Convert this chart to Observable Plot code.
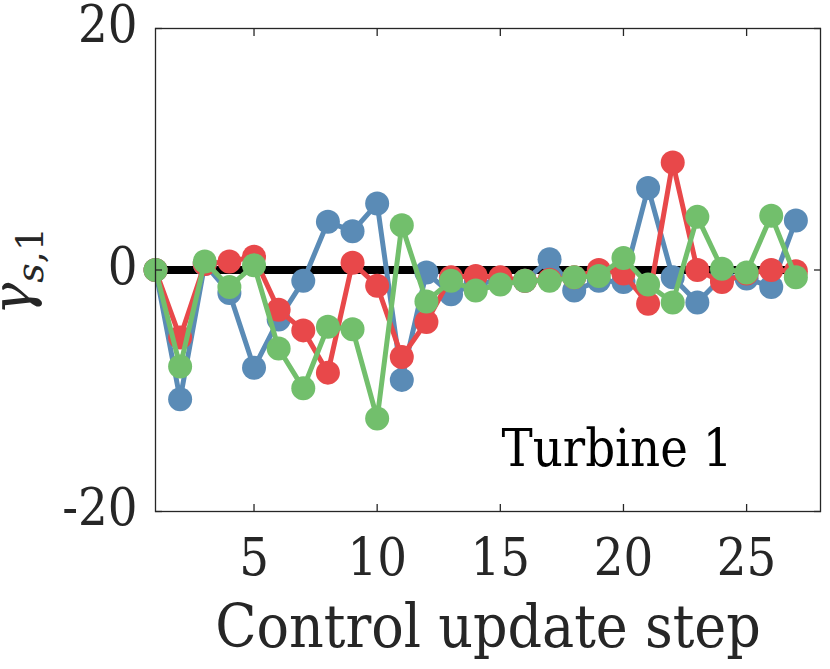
<!DOCTYPE html>
<html>
<head>
<meta charset="utf-8">
<script src="https://cdn.jsdelivr.net/npm/d3@7"></script>
<script src="https://cdn.jsdelivr.net/npm/@observablehq/plot@0.6"></script>
<style>
  html, body { margin: 0; padding: 0; background: #fff; }
</style>
</head>
<body>
<div id="chart"></div>
<script>
// ---- data ----
const steps = [1, 2, 3, 4, 5, 6, 7, 8, 9, 10, 11, 12, 13, 14, 15, 16, 17, 18, 19, 20, 21, 22, 23, 24, 25, 26, 27];
const seriesBlue  = [0, -10.7, 0.5, -1.9, -8.1, -4.1, -0.9, 4.0, 3.2, 5.5, -9.1, -0.2, -2.0, -1.1, -0.9, -0.9, 0.9, -1.7, -0.9, -1.0, 6.8, -0.6, -2.7, -0.6, -0.7, -1.4, 4.1];
const seriesRed   = [0, -5.6, 0.5, 0.7, 1.1, -3.3, -5.0, -8.5, 0.6, -1.3, -7.2, -4.3, -0.6, -0.5, -0.6, -0.9, -0.8, -0.6, 0.0, -0.3, -2.8, 8.9, 0.0, -1.0, -0.3, 0.0, -0.1];
const seriesGreen = [0, -8.0, 0.7, -1.4, 0.4, -6.5, -9.8, -4.7, -4.9, -12.3, 3.7, -2.6, -0.9, -1.7, -1.2, -0.9, -0.9, -0.6, -0.5, 1.0, -1.2, -2.7, 4.4, 0.1, -0.2, 4.5, -0.6];
const seriesColors = ["#5A8BB6", "#E8484A", "#72BF6C"];
const xTicks = [5, 10, 15, 20, 25];
const yTicks = [-20, 0, 20];
const xDomain = [1, 28];
const yDomain = [-20, 20];
const xLabel = "Control update step";
const annotation = "Turbine 1";
const yLabelMain = "γ";
const yLabelSub = "s";
const yLabelSub2 = ",1";

// ---- build ----
const AX = "#262626";
const SERIF = "DejaVu Serif";
const COND = "DejaVu Serif Condensed, DejaVu Serif";
const allSeries = [seriesBlue, seriesRed, seriesGreen].map((vals) =>
  steps.map((s, i) => ({ step: s, value: vals[i] }))
);

const marks = [
  Plot.ruleY([0], { x1: d3.min(steps), x2: d3.max(steps), stroke: "#000", strokeWidth: 8 })
];
allSeries.forEach((data, k) => {
  marks.push(Plot.line(data, { x: "step", y: "value", stroke: seriesColors[k], strokeWidth: 5 }));
  marks.push(Plot.dot(data, { x: "step", y: "value", fill: seriesColors[k], r: 12 }));
});
marks.push(
  Plot.frame({ stroke: AX, strokeWidth: 1.3 }),
  Plot.axisX(xTicks, { anchor: "bottom", tickSize: 0, tickPadding: 27, fontSize: 52, fontFamily: COND, tickFormat: (d) => String(d), label: null, fill: AX }),
  Plot.axisX(xTicks, { anchor: "bottom", tickSize: -7, fill: "none", stroke: AX, strokeWidth: 1.3, label: null }),
  Plot.axisX(xTicks, { anchor: "top", tickSize: -7, fill: "none", stroke: AX, strokeWidth: 1.3, label: null }),
  Plot.axisY(yTicks, { anchor: "left", tickSize: 0, tickPadding: 18, dy: -2.7, fontSize: 52, fontFamily: COND, tickFormat: (d) => String(d), label: null, fill: AX }),
  Plot.axisY(yTicks, { anchor: "left", tickSize: -7, fill: "none", stroke: AX, strokeWidth: 1.3, label: null }),
  Plot.axisY(yTicks, { anchor: "right", tickSize: -7, fill: "none", stroke: AX, strokeWidth: 1.3, label: null }),
  Plot.text([xLabel], { frameAnchor: "bottom", lineAnchor: "bottom", dy: 135, fontSize: 60, fontFamily: COND, fill: AX }),
  Plot.text([annotation], { frameAnchor: "bottom-right", textAnchor: "end", lineAnchor: "bottom", dx: -88, dy: -46, fontSize: 52, fontFamily: COND, fill: "#000" })
);

const svg = Plot.plot({
  width: 830,
  height: 669,
  marginLeft: 155,
  marginRight: 10,
  marginTop: 28,
  marginBottom: 158,
  x: { domain: xDomain },
  y: { domain: yDomain },
  style: { color: AX, background: "#fff", overflow: "visible", fontFamily: SERIF },
  marks
});

// y-axis label with subscript
const yl = d3.select(svg).append("text")
  .attr("transform", "translate(31,271) rotate(-90)")
  .attr("text-anchor", "middle")
  .style("font-family", SERIF)
  .attr("fill", AX);
yl.append("tspan").attr("font-style", "italic").attr("font-size", 54).text(yLabelMain);
yl.append("tspan").attr("font-style", "italic").attr("font-size", 38).attr("dy", 12).text(yLabelSub);
yl.append("tspan").attr("font-size", 38).text(yLabelSub2);

document.getElementById("chart").appendChild(svg);
</script>
</body>
</html>
